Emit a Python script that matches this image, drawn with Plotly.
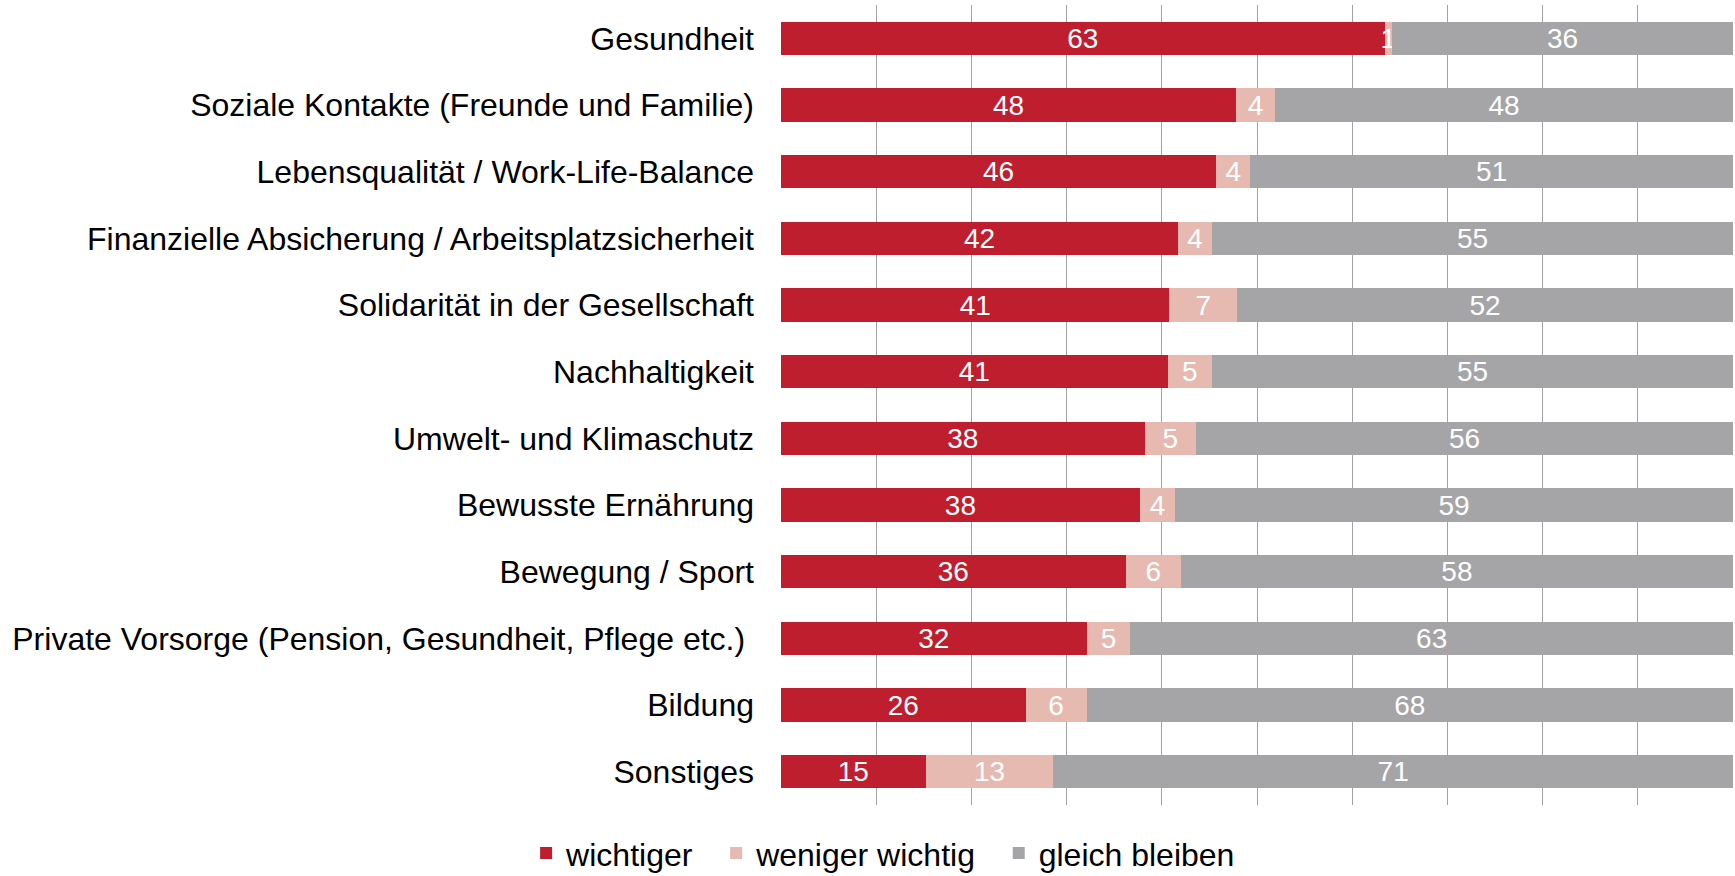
import plotly.graph_objects as go

categories = [
    "Gesundheit",
    "Soziale Kontakte (Freunde und Familie)",
    "Lebensqualität / Work-Life-Balance",
    "Finanzielle Absicherung / Arbeitsplatzsicherheit",
    "Solidarität in der Gesellschaft",
    "Nachhaltigkeit",
    "Umwelt- und Klimaschutz",
    "Bewusste Ernährung",
    "Bewegung / Sport",
    "Private Vorsorge (Pension, Gesundheit, Pflege etc.)\u00a0",
    "Bildung",
    "Sonstiges",
]
wichtiger = [63.4, 47.8, 45.7, 41.7, 40.8, 40.6, 38.2, 37.7, 36.2, 32.1, 25.7, 15.2]
weniger_wichtig = [0.8, 4.1, 3.6, 3.6, 7.1, 4.7, 5.4, 3.7, 5.8, 4.6, 6.4, 13.4]
gleich_bleiben = [35.8, 48.1, 50.7, 54.7, 52.1, 54.7, 56.4, 58.6, 58.0, 63.3, 67.9, 71.4]

series_names = ["wichtiger", "weniger wichtig", "gleich bleiben"]
series_values = [wichtiger, weniger_wichtig, gleich_bleiben]
series_colors = ["#BE1E2D", "#E6BAB0", "#A5A5A7"]

FONT = "Liberation Sans, Arial, sans-serif"
PAD = "\u00a0\u00a0"

fig = go.Figure()
for i, (name, vals, color) in enumerate(zip(series_names, series_values, series_colors)):
    fig.add_trace(go.Bar(
        y=categories, x=vals, name=name + (PAD if i < 2 else ""), orientation="h",
        marker=dict(color=color, line=dict(width=0)),
        texttemplate="%{x:.0f}", textposition="inside",
        insidetextanchor="middle", textangle=0, constraintext="none",
        textfont=dict(color="white", size=28, family=FONT),
        hoverinfo="skip",
    ))

fig.update_layout(
    barmode="stack",
    bargap=0.5,
    width=1735, height=876,
    margin=dict(l=781, r=2, t=5, b=71),
    paper_bgcolor="white", plot_bgcolor="white",
    font=dict(family=FONT, size=32, color="black"),
    showlegend=True,
    legend=dict(
        orientation="h", xref="container", yref="container",
        x=0.509, xanchor="center", y=0.026, yanchor="middle",
        font=dict(size=32, family=FONT, color="black"),
        traceorder="normal",
    ),
    xaxis=dict(
        range=[0, 100], dtick=10, showgrid=True, gridcolor="#A3A3A3", gridwidth=1,
        showticklabels=False, zeroline=False, showline=False, fixedrange=True,
    ),
    yaxis=dict(
        autorange="reversed", showgrid=False, showline=False, ticks="",
        ticklabelstandoff=26, tickfont=dict(size=32, family=FONT, color="black"),
    ),
)

fig.write_html(
    "out.html",
    config={"displayModeBar": False},
    post_script="document.body.style.margin='0';document.body.style.overflow='hidden';",
)
